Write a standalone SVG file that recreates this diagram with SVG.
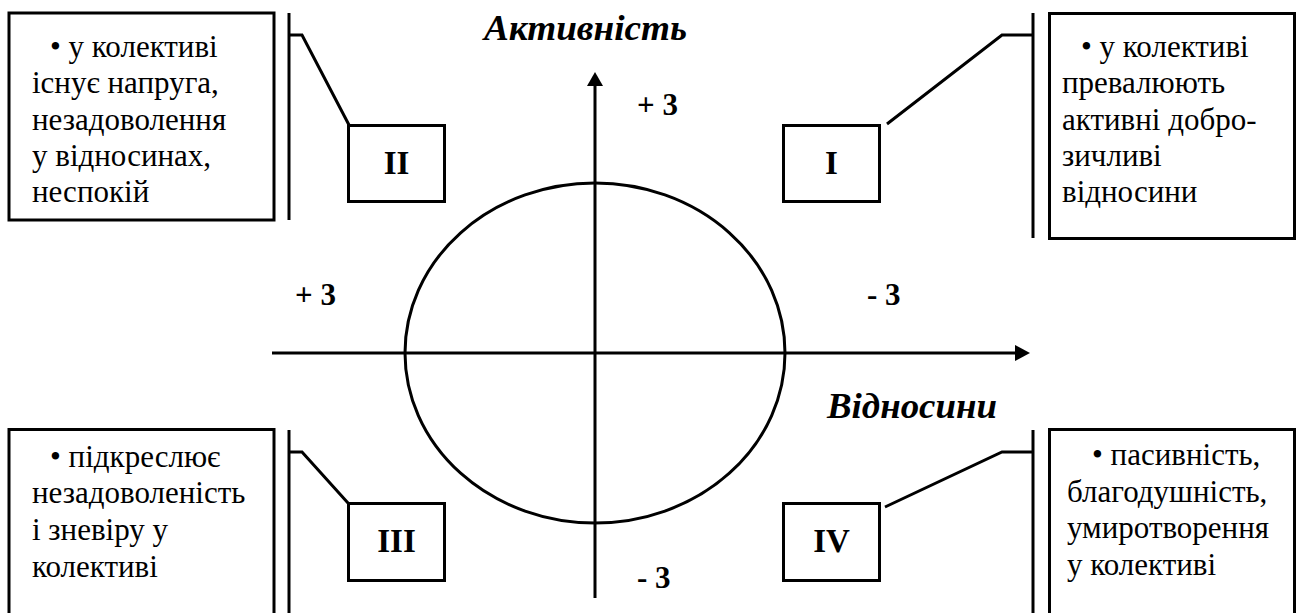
<svg xmlns="http://www.w3.org/2000/svg" width="1297" height="613" viewBox="0 0 1297 613">
<defs>
<style>
.box{fill:#fff;stroke:#000;stroke-width:3}
.ln{fill:none;stroke:#000;stroke-width:3}
.txt{font-family:'Liberation Serif','Times New Roman',serif;font-size:31px;fill:#000}
.num{font-family:'Liberation Serif','Times New Roman',serif;font-size:31px;font-weight:bold;fill:#000}
.lbl{font-family:'Liberation Serif','Times New Roman',serif;font-size:33px;font-weight:bold;fill:#000;text-anchor:middle}
.ax{font-family:'Liberation Serif','Times New Roman',serif;font-size:35px;font-weight:bold;font-style:italic;fill:#000}
</style>
</defs>
<rect width="1297" height="613" fill="#fff"/>
<g id="axes">
<ellipse cx="595" cy="353" rx="190" ry="170" class="ln" stroke-width="2.6"/>
<line x1="595" y1="598" x2="595" y2="84" class="ln"/>
<polygon points="595,72 587,86 603,86" fill="#000"/>
<line x1="272" y1="353" x2="1017" y2="353" class="ln"/>
<polygon points="1030,353 1015,345 1015,361" fill="#000"/>
<text class="ax" x="484" y="40" textLength="203" lengthAdjust="spacingAndGlyphs">Активність</text>
<text class="ax" x="827" y="418" textLength="170" lengthAdjust="spacingAndGlyphs">Відносини</text>
<text class="num" x="637" y="115">+ 3</text>
<text class="num" x="295" y="305">+ 3</text>
<text class="num" x="867" y="305">- 3</text>
<text class="num" x="637" y="588">- 3</text>
</g>
<g id="connectors">
<line x1="289" y1="13" x2="289" y2="220" class="ln"/>
<polyline points="289,35 302,35 349,125" class="ln"/>
<line x1="1033" y1="13" x2="1033" y2="238" class="ln"/>
<polyline points="1033,35 1002,35 887,124" class="ln"/>
<line x1="289" y1="430" x2="289" y2="620" class="ln"/>
<polyline points="289,452 302,452 348,503" class="ln"/>
<line x1="1033" y1="430" x2="1033" y2="620" class="ln"/>
<polyline points="1033,452 1002,452 885,507" class="ln"/>
</g>
<g id="box-tl">
<rect x="9" y="13" width="265" height="207" class="box"/>
<text class="txt"><tspan x="50" y="57">• у колективі</tspan><tspan x="32" y="93">існує напруга,</tspan><tspan x="32" y="130">незадоволення</tspan><tspan x="32" y="166">у відносинах,</tspan><tspan x="32" y="202">неспокій</tspan></text>
</g>
<g id="box-tr">
<rect x="1049.5" y="13.5" width="245" height="225" class="box"/>
<text class="txt"><tspan x="1081" y="57">• у колективі</tspan><tspan x="1062" y="93">превалюють</tspan><tspan x="1062" y="130">активні добро-</tspan><tspan x="1062" y="166">зичливі</tspan><tspan x="1062" y="202">відносини</tspan></text>
</g>
<g id="box-bl">
<rect x="9" y="429.5" width="265" height="200" class="box"/>
<text class="txt"><tspan x="50" y="467">• підкреслює</tspan><tspan x="32" y="503">незадоволеність</tspan><tspan x="32" y="540">і зневіру у</tspan><tspan x="32" y="577">колективі</tspan></text>
</g>
<g id="box-br">
<rect x="1049.5" y="429.5" width="245" height="200" class="box"/>
<text class="txt"><tspan x="1092" y="465">• пасивність,</tspan><tspan x="1067" y="502">благодушність,</tspan><tspan x="1067" y="538">умиротворення</tspan><tspan x="1067" y="575">у колективі</tspan></text>
</g>
<g id="node-I">
<rect x="783.5" y="125.5" width="96" height="76" class="box"/>
<text class="lbl" x="831.5" y="174">I</text>
</g>
<g id="node-II">
<rect x="348.5" y="125.5" width="96" height="76" class="box"/>
<text class="lbl" x="396.5" y="174">II</text>
</g>
<g id="node-III">
<rect x="348.5" y="503.5" width="96" height="77" class="box"/>
<text class="lbl" x="396.5" y="552">III</text>
</g>
<g id="node-IV">
<rect x="783.5" y="503.5" width="96" height="77" class="box"/>
<text class="lbl" x="831.5" y="552">IV</text>
</g>
</svg>
